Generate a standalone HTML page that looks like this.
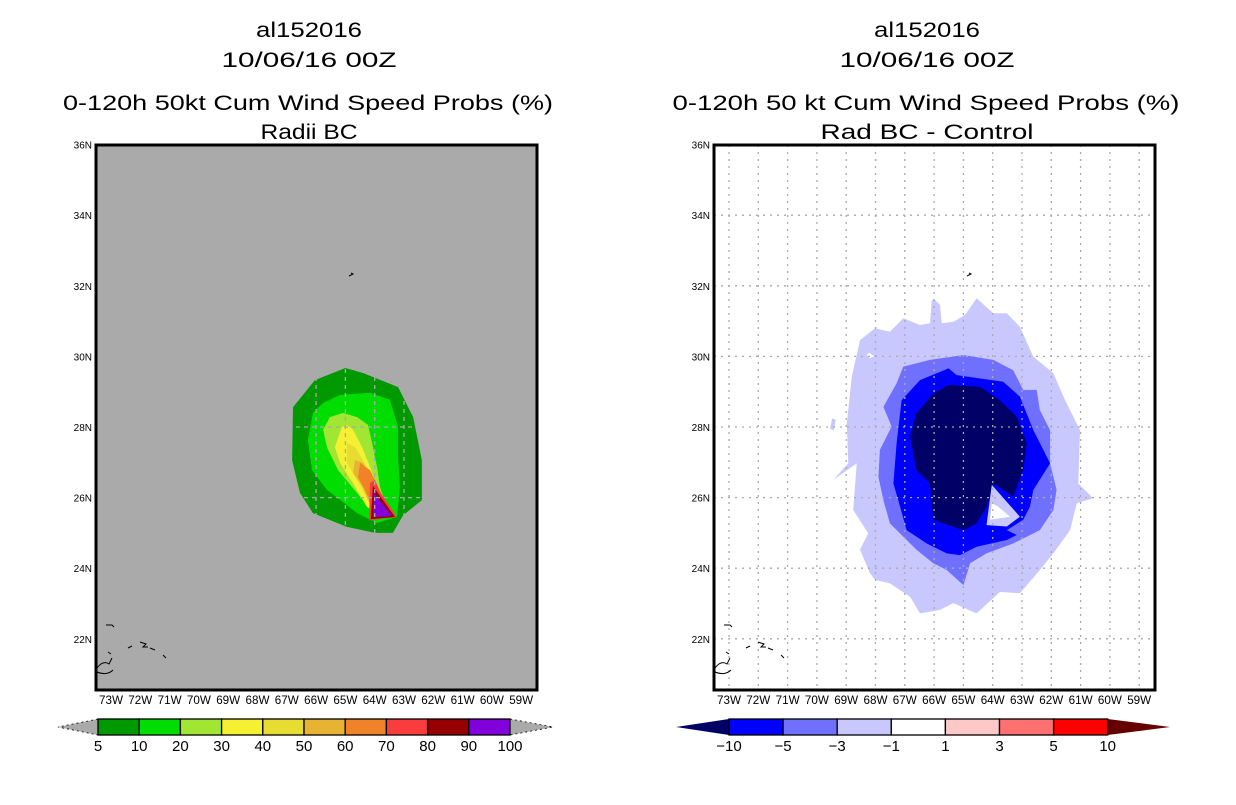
<!DOCTYPE html>
<html><head><meta charset="utf-8"><style>
body{margin:0;background:#fff;width:1236px;height:800px;overflow:hidden}
svg text{font-family:"Liberation Sans",sans-serif;fill:#000}
</style></head><body>
<svg id="c" width="1236" height="800" xmlns="http://www.w3.org/2000/svg"></svg>
<script>
const latTicks=[22,24,26,28,30,32,34,36];
const lonTicks=[73,72,71,70,69,68,67,66,65,64,63,62,61,60,59];
const probLevels=[5,10,20,30,40,50,60,70,80,90,100];
const probColors=["#009900","#00dd00","#a0e632","#f5f032","#e6dc32","#e6b432","#f08228","#fa3c3c","#960000","#8200dc"];
const diffLevels=["-10","-5","-3","-1","1","3","5","10"];
const diffColors=["#0000ff","#7070ff","#c8c8ff","#ffffff","#ffc8c8","#ff7070","#ff0000"];
// left panel contours (lon W, lat N)
const p5=[[65.0,29.67],[66.04,29.33],[66.79,28.56],[66.82,27.06],[66.55,26.13],[66.11,25.56],[64.95,25.17],[63.99,25.0],[63.38,25.0],[63.03,25.5],[62.39,25.93],[62.39,27.06],[62.69,28.28],[63.2,29.13],[64.4,29.53]];
const p10=[[66.11,28.4],[66.28,27.63],[66.14,26.78],[65.63,26.22],[64.6,25.56],[63.92,25.28],[63.24,25.45],[63.14,26.3],[63.2,27.15],[63.2,28.0],[63.48,28.77],[64.16,28.97],[65.18,28.91],[65.76,28.68]];
const p20=[[65.53,28.28],[65.76,27.92],[65.63,27.43],[65.25,26.78],[64.6,26.13],[64.06,25.56],[63.48,25.45],[63.82,26.3],[63.92,26.87],[64.09,27.55],[64.23,28.06],[64.6,28.28],[65.08,28.4]];
const p30=[[65.12,28.0],[65.36,27.43],[65.18,26.98],[64.74,26.41],[64.26,25.73],[63.82,25.56],[63.5,25.5],[63.92,26.3],[64.16,26.87],[64.43,27.43],[64.74,27.92],[64.95,28.06]];
const p40=[[64.95,27.55],[64.95,26.98],[64.6,26.5],[64.23,25.93],[63.82,25.65],[63.6,25.55],[63.99,26.41],[64.4,27.06],[64.67,27.43]];
const p50=[[64.67,27.06],[64.74,26.7],[64.4,26.3],[64.16,25.8],[63.7,25.6],[64.06,26.41],[64.4,26.98]];
const p60=[[64.5,26.98],[64.57,26.58],[64.16,25.93],[64.1,25.4],[63.45,25.55],[63.82,26.2],[64.16,26.78]];
const p70=[[64.16,26.41],[64.19,25.36],[63.24,25.45],[63.82,26.16],[63.99,26.5]];
const p80=[[64.06,26.33],[64.13,25.39],[63.31,25.45],[63.89,26.13]];
const p90=[[64.02,26.16],[64.06,25.45],[63.41,25.48],[63.92,26.02]];
// right panel contours
const dm1=[[65.97,31.6],[65.8,31.46],[65.74,30.94],[65.34,30.98],[64.95,31.17],[64.55,31.65],[63.98,31.22],[63.52,31.22],[63.07,30.84],[62.61,29.99],[61.93,29.52],[61.53,28.76],[61.02,27.91],[61.08,26.4],[60.57,25.98],[61.13,25.84],[61.36,25.08],[61.93,24.42],[62.39,23.95],[63.07,23.29],[63.75,23.33],[64.55,22.72],[65.34,23.01],[65.8,22.82],[66.48,22.72],[66.82,23.19],[67.51,23.57],[68.02,23.67],[68.19,23.86],[68.53,24.52],[68.25,24.99],[68.76,25.65],[68.64,26.97],[69.44,26.5],[68.93,26.97],[68.98,28.1],[68.81,29.43],[68.53,30.46],[68.02,30.8],[67.51,30.7],[67.05,31.08],[66.48,30.89],[66.14,30.94],[66.08,31.6]];
const dm1b=[[69.48,28.25],[69.36,28.2],[69.42,27.9],[69.55,27.95]];
const dm3=[[67.05,29.71],[66.14,29.9],[65.0,30.04],[63.98,29.9],[63.3,29.61],[62.96,29.05],[62.5,29.05],[62.39,28.48],[62.04,27.91],[62.04,26.97],[61.82,26.22],[61.93,25.65],[62.39,25.08],[63.3,24.7],[64.21,24.42],[64.77,24.14],[65.0,23.52],[65.57,23.95],[66.03,24.14],[66.6,24.52],[67.05,24.89],[67.51,25.27],[67.73,25.93],[67.9,26.59],[67.85,27.35],[67.45,28.01],[67.73,28.57],[67.28,29.24]];
const dm5=[[66.48,29.33],[65.51,29.66],[65.23,29.47],[63.64,29.28],[63.07,28.86],[62.61,27.91],[62.04,26.97],[62.61,26.22],[62.73,25.74],[62.96,25.37],[63.52,25.08],[63.18,24.94],[63.52,24.8],[64.55,24.61],[65.12,24.37],[65.57,24.42],[66.25,24.7],[66.94,25.08],[67.16,25.74],[67.39,26.4],[67.28,27.54],[67.11,28.76]];
const dm10=[[66.03,28.95],[65.51,29.19],[64.43,29.14],[63.75,28.76],[63.18,28.29],[62.84,27.54],[62.96,26.78],[63.3,26.03],[63.98,26.4],[64.21,25.74],[64.55,25.27],[65.0,25.08],[66.03,25.37],[66.14,26.4],[66.6,26.78],[66.82,27.73],[66.6,28.39]];
const hole3=[[64.03,26.36],[64.21,25.22],[63.52,25.18],[63.07,25.46]];
const hole0=[[64.03,25.84],[64.09,25.37],[63.41,25.46],[63.81,25.74]];
const hole0b=[[68.3,30.05],[68.2,29.95],[68.05,30.0],[68.2,30.1]];

const NS="http://www.w3.org/2000/svg";
const svg=document.getElementById('c');
function mk(t,a,p){const e=document.createElementNS(NS,t);for(const k in a)e.setAttribute(k,a[k]);(p||svg).appendChild(e);return e;}
const PX=29.3, PY=35.3, Y36=144.6;
function xs(off){return lon=>off+111+(73-lon)*PX;}
function ys(lat){return Y36+(36-lat)*PY;}
function poly(pts,xf,fill,g,name){
  const e=mk('polygon',{points:pts.map(p=>xf(p[0]).toFixed(1)+','+ys(p[1]).toFixed(1)).join(' '),fill:fill},g);
  
  
}
function txt(x,y,s,size,anchor,name,len){
  const a={x:x,y:y,'font-size':size,'text-anchor':anchor||'middle'};
  if(len){a.textLength=len;a.lengthAdjust='spacingAndGlyphs';}
  const e=mk('text',a);e.textContent=s;
  
  
  return e;
}
function panel(off,bg,grid,title3,title4,polys,gridStyle,t3len,t4len,t3x){
  const xf=xs(off);
  const L=96+off,R=537+off,T=145,B=690;
  const g=mk('g',{});
  
  
  txt(309+off,37,'al152016',21,'middle','title-storm-id',106);
  txt(309+off,67,'10/06/16 00Z',21,'middle','title-date',175);
  txt(t3x,110,title3,21,'middle','title-product',t3len);
  txt(309+off,139,title4,21,'middle','title-subtitle',t4len);
  const bgr=mk('rect',{x:L,y:T,width:R-L,height:B-T,fill:bg},g);
  
  
  const cl=mk('g',{},g);
  polys.forEach(p=>poly(p[0],xf,p[1],cl,p[2]));
  lonTicks.forEach(l=>{const x=xf(l);const e=mk('line',{x1:x,y1:T,x2:x,y2:B,stroke:grid,'stroke-width':1.3,'stroke-dasharray':gridStyle},g);
    });
  latTicks.forEach(l=>{const y=ys(l);const e=mk('line',{x1:L,y1:y,x2:R,y2:y,stroke:grid,'stroke-width':1.3,'stroke-dasharray':gridStyle},g);
    });
  const c='#000';
  mk('path',{d:`M${349+off},276 l4,-2 l-2,-1`,stroke:c,fill:'none','stroke-width':1},g);
  mk('path',{d:`M${97+off},668 q6,-8 12,-4 l3,-6 M${97+off},672 q10,4 16,-2 M${106+off},625 l6,0 l2,2 M${128+off},648 l4,-2 M${140+off},642 l6,2 l-3,3 l5,0 M${150+off},648 l5,2 M${163+off},655 l3,3 M${108+off},652 l3,2`,stroke:c,fill:'none','stroke-width':1},g);
  const fr=mk('rect',{x:L,y:T,width:R-L,height:B-T,fill:'none',stroke:'#000','stroke-width':3},g);
  
  latTicks.forEach(l=>txt(L-4,ys(l)+4,l+'N',10,'end','lat-tick-label'));
  lonTicks.forEach(l=>txt(xf(l),704,l+'W',12,'middle','lon-tick-label',24));
}
panel(0,'#aaaaaa','#aaaaaa','0-120h 50kt Cum Wind Speed Probs (%)','Radii BC',
 [[p5,probColors[0],'contour-5'],[p10,probColors[1],'contour-10'],[p20,probColors[2],'contour-20'],[p30,probColors[3],'contour-30'],[p40,probColors[4],'contour-40'],[p50,probColors[5],'contour-50'],[p60,probColors[6],'contour-60'],[p70,probColors[7],'contour-70'],[p80,probColors[8],'contour-80'],[p90,probColors[9],'contour-90']],'4 4',490,97,308);
panel(618,'#ffffff','#aaaaaa','0-120h 50 kt Cum Wind Speed Probs (%)','Rad BC - Control',
 [[dm1,'#c8c8ff','contour-minus1'],[dm1b,'#c8c8ff','contour-minus1-blob'],[dm3,'#7070ff','contour-minus3'],[dm5,'#0000ff','contour-minus5'],[dm10,'#000066','contour-minus10'],[hole3,'#c8c8ff','hole-minus1'],[hole0,'#ffffff','hole-zero'],[hole0b,'#ffffff','hole-zero-b']],'2 5',507,213,926);

function cbar(x0,w,levels,colors,lt,rt,ltip,rtip,name,dashTri){
  const g=mk('g',{});
  
  
  const y0=719,y1=735,ym=727;
  const n=colors.length, xe=x0+w*n;
  const a=mk('polygon',{points:`${x0},${y0} ${ltip},${ym} ${x0},${y1}`,fill:lt,stroke:dashTri?'#000':'none','stroke-dasharray':'2 3','stroke-width':0.8},g);
  
  const b=mk('polygon',{points:`${xe},${y0} ${rtip},${ym} ${xe},${y1}`,fill:rt,stroke:dashTri?'#000':'none','stroke-dasharray':'2 3','stroke-width':0.8},g);
  
  colors.forEach((c,i)=>{const r=mk('rect',{x:x0+i*w,y:y0,width:w,height:y1-y0,fill:c,stroke:'#000','stroke-width':1.3},g);
    });
  levels.forEach((l,i)=>{const xx=x0+i*w;txt(xx,751,String(l).replace('-','\u2212'),15,'middle','colorbar-label');});
}
cbar(98,41.2,probLevels,probColors,'#aaaaaa','#aaaaaa',58,553,'prob-colorbar',true);
cbar(729,54.1,diffLevels,diffColors,'#000066','#660000',676,1170,'diff-colorbar',false);
</script>
</body></html>
